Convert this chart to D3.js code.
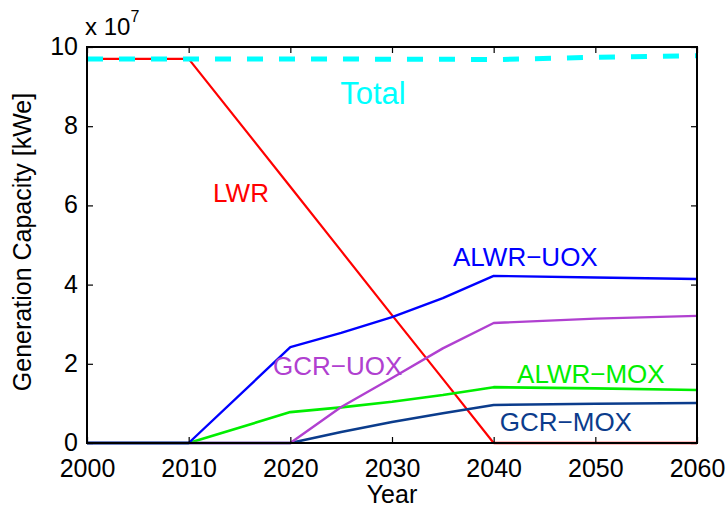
<!DOCTYPE html>
<html><head><meta charset="utf-8">
<script src="https://cdn.jsdelivr.net/npm/d3@7"></script>
<style>body{margin:0;background:#fff}svg{display:block}</style>
</head><body>
<script>
// Values in units of 1e7 kWe
const years = [2000, 2010, 2020, 2025, 2030, 2035, 2040, 2050, 2060];
const total   = [9.70, 9.70, 9.70, 9.70, 9.69, 9.69, 9.68, 9.74, 9.78];
const lwr     = [9.70, 9.70, 6.47, 4.85, 3.23, 1.62, 0.00, 0.00, 0.00];
const alwrUox = [0.00, 0.00, 2.42, 2.78, 3.18, 3.66, 4.22, 4.18, 4.14];
const gcrUox  = [0.00, 0.00, 0.00, 0.91, 1.64, 2.39, 3.03, 3.14, 3.21];
const alwrMox = [0.00, 0.00, 0.78, 0.90, 1.04, 1.21, 1.41, 1.38, 1.34];
const gcrMox  = [0.00, 0.00, 0.00, 0.28, 0.53, 0.75, 0.96, 0.99, 1.01];
const xTicks = [2000, 2010, 2020, 2030, 2040, 2050, 2060];
const yTicks = [0, 2, 4, 6, 8, 10];
const labels = ["Total", "LWR", "ALWR\u2212UOX", "GCR\u2212UOX", "ALWR\u2212MOX", "GCR\u2212MOX"];

const W = 727, H = 510;
const m = {l: 87, r: 30, t: 47, b: 67};
const svg = d3.select("body").append("svg").attr("width", W).attr("height", H)
  .style("font-family", "'Liberation Sans', Arial, Helvetica, sans-serif");

const x = d3.scaleLinear().domain([2000, 2060]).range([m.l, W - m.r]);
const y = d3.scaleLinear().domain([0, 10]).range([H - m.b, m.t]);

svg.append("clipPath").attr("id", "plotclip").append("rect")
  .attr("x", m.l).attr("y", m.t - 4).attr("width", W - m.r - m.l + 3).attr("height", H - m.b - m.t + 6);

const g = svg.append("g").attr("clip-path", "url(#plotclip)");
const line = d3.line().defined(d => d !== null).x((d, i) => x(years[i])).y(d => y(d));

const series = [
  {v: lwr, c: "#ff0000", w: 2.2},
  {v: gcrMox, c: "#0b3c8c", w: 2.6},
  {v: alwrMox, c: "#00ee00", w: 2.6},
  {v: gcrUox, c: "#b040d0", w: 2.4},
  {v: alwrUox, c: "#0000ff", w: 2.4},
];
series.forEach(s => {
  g.append("path").attr("d", line(s.v)).attr("fill", "none")
    .attr("stroke", s.c).attr("stroke-width", s.w).attr("stroke-linejoin", "round");
});
// LWR's zero segment is on top of the others at the baseline
g.append("path").attr("d", line(lwr.map((v, i) => i >= 6 ? v : null)))
  .attr("fill", "none").attr("stroke", "#ff0000").attr("stroke-width", 2.6);

g.append("path").attr("d", line(total)).attr("fill", "none")
  .attr("stroke", "#00ffff").attr("stroke-width", 5).attr("stroke-dasharray", "16,16");

// Axes box
const ax = svg.append("g");
const bottomAxis = d3.axisBottom(x).tickValues(xTicks).tickFormat(d3.format("d")).tickSizeInner(-6).tickSizeOuter(0).tickPadding(16);
const leftAxis = d3.axisLeft(y).tickValues(yTicks).tickFormat(d3.format("d")).tickSizeInner(-6).tickSizeOuter(0).tickPadding(9);
const topAxis = d3.axisTop(x).tickValues(xTicks).tickFormat("").tickSizeInner(-6).tickSizeOuter(0);
const rightAxis = d3.axisRight(y).tickValues(yTicks).tickFormat("").tickSizeInner(-6).tickSizeOuter(0);

function style(sel) {
  sel.select(".domain").remove();
  sel.selectAll(".tick line").attr("stroke", "#000").attr("stroke-width", 1.2);
  sel.selectAll("text").attr("fill", "#000").style("font-size", "25px");
}
ax.append("g").attr("transform", `translate(0,${H - m.b})`).call(bottomAxis).call(style);
ax.append("g").attr("transform", `translate(${m.l},0)`).call(leftAxis).call(style)
  .selectAll("text").attr("dy", "0.30em");
ax.append("g").attr("transform", `translate(0,${m.t})`).call(topAxis).call(style);
ax.append("g").attr("transform", `translate(${W - m.r},0)`).call(rightAxis).call(style);

ax.append("rect").attr("x", m.l).attr("y", m.t).attr("width", W - m.r - m.l).attr("height", H - m.b - m.t)
  .attr("fill", "none").attr("stroke", "#000").attr("stroke-width", 2);

// exponent
const ex = svg.append("text").attr("x", 85).attr("y", 35).style("font-size", "24px").attr("fill", "#000");
ex.append("tspan").text("x 10");
ex.append("tspan").attr("dy", -13).style("font-size", "16px").text("7");

// axis labels
svg.append("text").attr("x", (m.l + W - m.r) / 2).attr("y", 503).attr("text-anchor", "middle")
  .style("font-size", "25px").text("Year");
svg.append("text").attr("transform", `translate(31,${242}) rotate(-90)`)
  .attr("text-anchor", "middle").style("font-size", "25px").text("Generation Capacity [kWe]");

// series labels (positioned in data coordinates)
const lab = [
  {t: labels[0], yr: 2024.9, val: 8.56, c: "#00ffff", fs: 31},
  {t: labels[1], yr: 2012.4, val: 6.09, c: "#ff0000", fs: 26},
  {t: labels[2], yr: 2036.0, val: 4.47, c: "#0000ff", fs: 26},
  {t: labels[3], yr: 2018.3, val: 1.72, c: "#b040d0", fs: 26},
  {t: labels[4], yr: 2042.3, val: 1.52, c: "#00ee00", fs: 26},
  {t: labels[5], yr: 2040.6, val: 0.30, c: "#0b3c8c", fs: 26},
];
lab.forEach(d => {
  svg.append("text").attr("x", x(d.yr)).attr("y", y(d.val)).attr("fill", d.c)
    .style("font-size", d.fs + "px").text(d.t);
});
</script>
</body></html>
